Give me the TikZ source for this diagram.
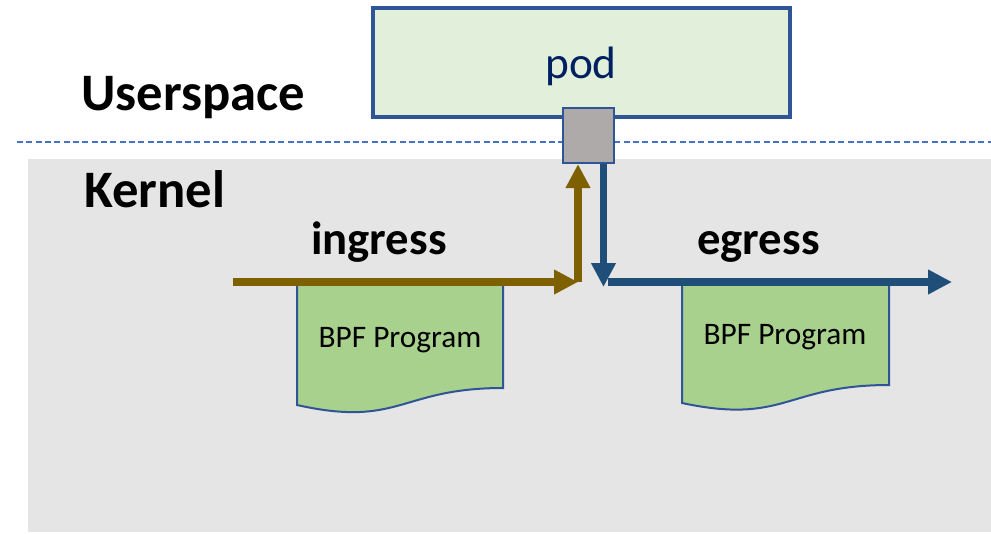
\documentclass[tikz,border=0pt]{standalone}
\usepackage{fontspec}
\setmainfont{Carlito}
\usetikzlibrary{arrows.meta}

\definecolor{kernelgray}{HTML}{E5E5E5}
\definecolor{podfill}{HTML}{E2EFDA}
\definecolor{frameblue}{HTML}{2F5597}
\definecolor{portgray}{HTML}{AEAAAA}
\definecolor{ingressbrown}{HTML}{7F6000}
\definecolor{egressblue}{HTML}{1F4E79}
\definecolor{bpfgreen}{HTML}{A9D18E}
\definecolor{dashblue}{HTML}{4472C4}
\definecolor{podtext}{HTML}{002060}

\tikzset{
  label text/.style={inner sep=0pt, anchor=base west, font=\bfseries\fontsize{39.5pt}{44pt}\selectfont},
  flow text/.style={inner sep=0pt, anchor=base west, font=\bfseries\fontsize{35pt}{40pt}\selectfont},
  podbox/.style={draw=frameblue, line width=2.4pt, fill=podfill, inner sep=0pt},
  portbox/.style={draw=frameblue, line width=1.6pt, fill=portgray, inner sep=0pt},
  bpfshape/.style={draw=frameblue, line width=1.5pt, fill=bpfgreen},
  bpf text/.style={inner sep=0pt, anchor=base, font=\fontsize{23.5pt}{28pt}\selectfont},
  ingressarrow/.style={draw=ingressbrown, line width=5.6pt,
    -{Triangle[length=18pt,width=17.5pt]}},
  egressarrow/.style={draw=egressblue, line width=5.6pt,
    -{Triangle[length=18pt,width=17.5pt]}},
  borderline/.style={draw=dashblue, line width=0.8pt, dash pattern=on 4.5pt off 2.5pt},
}

\begin{document}
\begin{tikzpicture}[x=0.75pt, y=-0.75pt]
  \useasboundingbox (0,0) rectangle (991,533);

  % kernel area
  \fill[kernelgray] (28,159) rectangle (991,532);

  % userspace / kernel boundary
  \coordinate (dashL) at (17,142);
  \coordinate (dashR) at (991,142);
  \draw[borderline] (dashL) -- (dashR);

  % section labels
  \node[label text] (userspace) at (81,110) {Userspace};
  \node[label text] (kernel) at (84,207) {Kernel};
  \node[flow text] (ingress) at (311,254) {ingress};
  \node[flow text] (egress) at (697,254) {egress};

  % pod and its interface
  \node[podbox, minimum width=312.75pt, minimum height=81.75pt] (pod) at (581.5,62.5) {};
  \node[inner sep=0pt, anchor=base, text=podtext, font=\fontsize{34pt}{40pt}\selectfont] (podlabel) at (581,78) {pod};
  \node[portbox, minimum width=38.25pt, minimum height=41.25pt] (port) at (588.5,135.5) {};

  % BPF programs (document shapes)
  \path[bpfshape] (297,283) -- (503,283) -- (503,388)
    .. controls (400,388) and (400,428) .. (297,405) -- cycle;
  \node[bpf text] (bpfin) at (400,347) {BPF Program};

  \path[bpfshape] (682,283) -- (889,283) -- (889,385)
    .. controls (785.5,385) and (785.5,425) .. (682,403) -- cycle;
  \node[bpf text] (bpfout) at (785,344) {BPF Program};

  % ingress path
  \coordinate (inStart) at (233,282);
  \coordinate (inElbow) at (578,282);
  \draw[ingressarrow] (inStart) -- (inElbow);
  \draw[ingressarrow] (inElbow) -- (inElbow |- port.south);

  % egress path
  \coordinate (egDown) at (603.5,287);
  \coordinate (egStart) at (608,282);
  \coordinate (egEnd) at (952,282);
  \draw[egressarrow] (egDown |- port.south) -- (egDown);
  \draw[egressarrow] (egStart) -- (egEnd);
\end{tikzpicture}
\end{document}
